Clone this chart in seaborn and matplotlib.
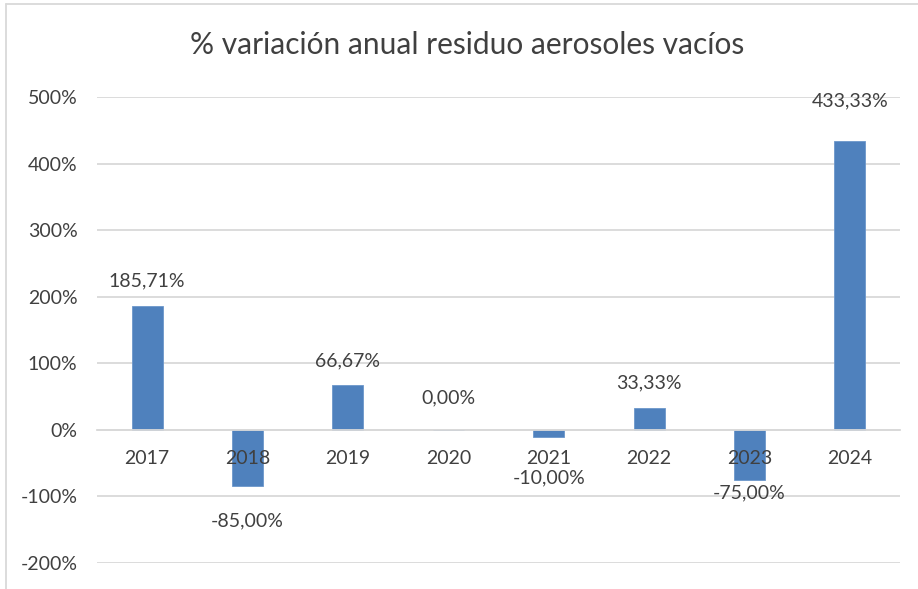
import matplotlib
matplotlib.use("Agg")
import matplotlib.pyplot as plt
import matplotlib.ticker as mticker
from matplotlib.lines import Line2D
import pandas as pd
import seaborn as sns

# ── Data ──────────────────────────────────────────────────────────────────────
years   = ["2017", "2018", "2019", "2020", "2021", "2022", "2023", "2024"]
changes = [185.71, -85.00, 66.67, 0.00, -10.00, 33.33, -75.00, 433.33]  # % variation
y_ticks = [-200, -100, 0, 100, 200, 300, 400, 500]

TITLE = "% variación anual residuo aerosoles vacíos"

# label offsets in pixels from the bar end (Excel nudged some of them)
label_offsets = [25, -34, 25, 32, -41, 25, -13, 41]

BAR_COLOR  = "#4F81BD"
GRID_COLOR = "#D9D9D9"
TEXT_COLOR = "#404040"
FONT_SIZE  = 14

sns.set_theme(style="white")
plt.rcParams["font.family"] = ["Lato", "DejaVu Sans"]

df = pd.DataFrame({"year": years, "change": changes})

fig = plt.figure(figsize=(9.18, 5.89), dpi=100)
ax = fig.add_axes([97 / 918, 26 / 589, 803 / 918, 466 / 589])

sns.barplot(data=df, x="year", y="change", color=BAR_COLOR, width=0.31,
            edgecolor="#6C97CB", linewidth=0.6, saturation=1, ax=ax)

ax.set_ylim(-200, 500)
ax.set_yticks(y_ticks)
ax.yaxis.set_major_formatter(mticker.FuncFormatter(lambda v, _: f"{v:.0f}%"))
ax.grid(axis="y", color=GRID_COLOR, linewidth=1.3)
ax.set_axisbelow(True)

for side in ("top", "right", "left"):
    ax.spines[side].set_visible(False)
ax.spines["bottom"].set_position(("data", 0))
ax.spines["bottom"].set_color(GRID_COLOR)
ax.spines["bottom"].set_linewidth(1.3)

# category labels sit on top of the bars in the original, so draw them as text
ax.tick_params(axis="x", length=0, labelbottom=False)
ax.tick_params(axis="y", length=0, pad=14, labelsize=FONT_SIZE, labelcolor=TEXT_COLOR)
ax.set_xlabel("")
ax.set_ylabel("")
for i, yr in enumerate(years):
    ax.annotate(yr, (i, 0), xytext=(0, -29), textcoords="offset pixels",
                ha="center", va="center", fontsize=FONT_SIZE, color=TEXT_COLOR,
                zorder=5)

# data labels
for i, (val, off) in enumerate(zip(changes, label_offsets)):
    txt = f"{val:.2f}".replace(".", ",") + "%"
    ax.annotate(txt, (i, val), xytext=(0, off), textcoords="offset pixels",
                ha="center", va="center", fontsize=FONT_SIZE, color=TEXT_COLOR,
                zorder=5)

fig.text(467 / 918, 1 - 45 / 589, TITLE, ha="center", va="center",
         fontsize=21.5, color=TEXT_COLOR)

# chart frame (cropped on right and bottom)
fig.add_artist(Line2D([6 / 918, 6 / 918], [0, 1 - 4 / 589],
                      transform=fig.transFigure, color=GRID_COLOR, lw=1.3))
fig.add_artist(Line2D([6 / 918, 1], [1 - 4 / 589, 1 - 4 / 589],
                      transform=fig.transFigure, color=GRID_COLOR, lw=1.3))

fig.savefig("out.png", dpi=100)
